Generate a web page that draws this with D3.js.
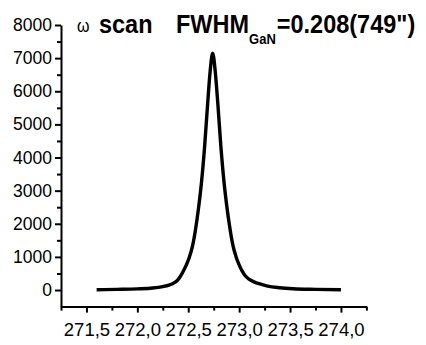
<!DOCTYPE html>
<html>
<head>
<meta charset="utf-8">
<script src="https://cdn.jsdelivr.net/npm/d3@7"></script>
<style>
  body { margin: 0; background: #fff; }
  svg { display: block; }
  .tick text { font-family: "Liberation Sans", Arial, sans-serif; fill: #000; }
</style>
</head>
<body>
<svg id="plot" width="426" height="345"></svg>
<script>
// omega scan data (degrees vs counts)
var omega = [271.60, 271.80, 272.00, 272.15, 272.25, 272.31, 272.35, 272.39, 272.42, 272.45,
  272.48, 272.51, 272.54, 272.57, 272.60, 272.63, 272.66, 272.69, 272.715, 272.74,
  272.765, 272.79, 272.82, 272.85, 272.88, 272.91, 272.94, 272.97, 273.00, 273.03,
  273.06, 273.10, 273.15, 273.21, 273.28, 273.40, 273.53, 273.75, 274.00];
var counts = [10, 20, 35, 60, 105, 150, 200, 280, 400, 560,
  750, 980, 1300, 1800, 2450, 3250, 4300, 5600, 6600, 7150,
  6600, 5650, 4350, 3300, 2500, 1850, 1330, 1000, 760, 570,
  430, 320, 240, 180, 120, 70, 40, 20, 8];

var xTicks = [271.5, 272.0, 272.5, 273.0, 273.5, 274.0];
var yTicks = [0, 1000, 2000, 3000, 4000, 5000, 6000, 7000, 8000];

var svg = d3.select('#plot');

// scales
var xScale = d3.scaleLinear().domain([271.25, 274.25]).range([61, 366.4]);
var yScale = d3.scaleLinear().domain([-500, 8000]).range([306.6, 25]);

var fmtX = function (d) { return d3.format('.1f')(d).replace('.', ','); };

// minor ticks first
var xMinor = d3.range(271.25, 274.26, 0.25).filter(function (v) {
  return xTicks.every(function (t) { return Math.abs(t - v) > 1e-6; });
});
var yMinor = d3.range(500, 8000, 1000);

svg.append('g')
  .attr('transform', 'translate(0,' + yScale(-500) + ')')
  .call(d3.axisBottom(xScale).tickValues(xMinor).tickSize(4).tickFormat(''))
  .call(function (g) { g.select('.domain').remove(); g.selectAll('line').attr('stroke-width', 2); });

svg.append('g')
  .attr('transform', 'translate(' + xScale(271.25) + ',0)')
  .call(d3.axisLeft(yScale).tickValues(yMinor).tickSize(4).tickFormat(''))
  .call(function (g) { g.select('.domain').remove(); g.selectAll('line').attr('stroke-width', 2); });

// major axes
var xAxis = svg.append('g')
  .attr('transform', 'translate(0,' + yScale(-500) + ')')
  .call(d3.axisBottom(xScale).tickValues(xTicks).tickSize(6).tickSizeOuter(0).tickPadding(10).tickFormat(fmtX));
xAxis.select('.domain').attr('stroke-width', 2);
xAxis.selectAll('line').attr('stroke-width', 2);
xAxis.selectAll('text').attr('font-size', 18.5);

var yAxis = svg.append('g')
  .attr('transform', 'translate(' + xScale(271.25) + ',0)')
  .call(d3.axisLeft(yScale).tickValues(yTicks).tickSize(6).tickSizeOuter(0).tickPadding(3).tickFormat(d3.format('d')));
yAxis.select('.domain').attr('stroke-width', 2);
yAxis.selectAll('line').attr('stroke-width', 2);
yAxis.selectAll('text').attr('font-size', 17.5);

// the curve
var pts = omega.map(function (w, i) { return [w, counts[i]]; });
var line = d3.line()
  .x(function (d) { return xScale(d[0]); })
  .y(function (d) { return yScale(d[1]); })
  .curve(d3.curveMonotoneX);

svg.append('path')
  .datum(pts)
  .attr('d', line)
  .attr('fill', 'none')
  .attr('stroke', '#000')
  .attr('stroke-width', 3.4)
  .attr('stroke-linejoin', 'round');

// title
var title = svg.append('g')
  .attr('transform', 'translate(0,33) scale(1,1.12)')
  .attr('font-family', '"Liberation Sans", Arial, sans-serif')
  .attr('fill', '#000');

title.append('text').attr('x', 77).attr('y', -1).attr('font-size', 16).text('ω');
title.append('text').attr('x', 99).attr('y', 0).attr('font-size', 23.5).attr('font-weight', 'bold').text('scan');
var t2 = title.append('text').attr('x', 176).attr('y', 0).attr('font-size', 23.5).attr('font-weight', 'bold');
t2.append('tspan').text('FWHM');
t2.append('tspan').attr('font-size', 13).attr('dy', 10).text('GaN');
t2.append('tspan').attr('dy', -10).attr('dx', 1).text('=0.208(749")');
</script>
</body>
</html>
